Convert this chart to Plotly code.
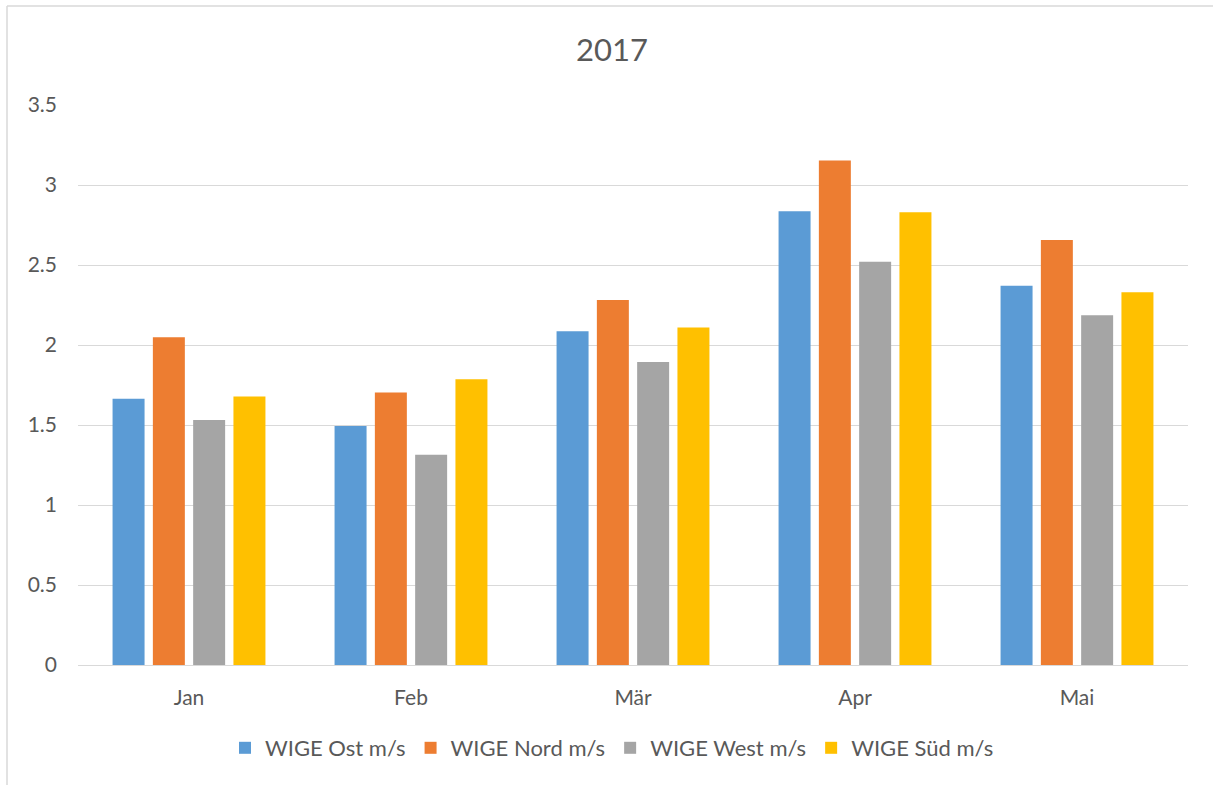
import plotly.graph_objects as go

months = ["Jan", "Feb", "Mär", "Apr", "Mai"]
ost = [1.664, 1.493, 2.086, 2.836, 2.370]
nord = [2.049, 1.703, 2.282, 3.153, 2.657]
west = [1.532, 1.314, 1.893, 2.520, 2.186]
sued = [1.678, 1.786, 2.109, 2.830, 2.330]

series = [
    ("WIGE Ost m/s", ost, "#5B9BD5"),
    ("WIGE Nord m/s", nord, "#ED7D31"),
    ("WIGE West m/s", west, "#A5A5A5"),
    ("WIGE Süd m/s", sued, "#FFC000"),
]

W, H = 1213, 785
L, R, T, B = 78, W - 1188, 105, H - 665

fig = go.Figure()
for name, vals, col in series:
    fig.add_trace(go.Bar(x=months, y=vals, name=name, marker_color=col,
                         marker_line_width=0))

font_fam = "Lato, 'Open Sans', sans-serif"
gray = "#595959"

def px_x(px):
    return (px - L) / (W - L - R)

def px_y(py):
    return (H - B - py) / (H - T - B)

fig.update_layout(
    width=W, height=H,
    margin=dict(l=L, r=R, t=T, b=B),
    paper_bgcolor="white", plot_bgcolor="white",
    font=dict(family=font_fam, color=gray, size=21),
    title=dict(text="2017", x=px_x(612), xref="paper", xanchor="center",
               y=1 - 50 / H, yref="container", yanchor="middle",
               font=dict(size=31, color=gray, family=font_fam)),
    barmode="group", bargap=0.274, bargroupgap=0.206,
    legend=dict(orientation="h", x=px_x(612), xanchor="center",
                y=px_y(748), yanchor="middle",
                font=dict(size=22, color=gray), traceorder="normal",
                itemwidth=30),
    showlegend=True,
)
fig.update_yaxes(range=[0, 3.5], dtick=0.5, showgrid=True,
                 gridcolor="#D9D9D9", gridwidth=1, zeroline=False,
                 showline=False, ticks="", ticklabelstandoff=20,
                 tickfont=dict(size=21, color=gray))
fig.update_xaxes(showline=True, linecolor="#D9D9D9", linewidth=1, ticks="",
                 ticklabelstandoff=14, tickfont=dict(size=21, color=gray))

# chart area border (top and left visible)
fig.add_shape(type="line", xref="paper", yref="paper",
              x0=px_x(7), x1=px_x(1213), y0=px_y(6), y1=px_y(6),
              line=dict(color="#D9D9D9", width=1.5))
fig.add_shape(type="line", xref="paper", yref="paper",
              x0=px_x(7), x1=px_x(7), y0=px_y(6), y1=px_y(785),
              line=dict(color="#D9D9D9", width=1.5))

fig.write_html("out.html", config={"displayModeBar": False},
               post_script="document.body.style.margin='0';")
